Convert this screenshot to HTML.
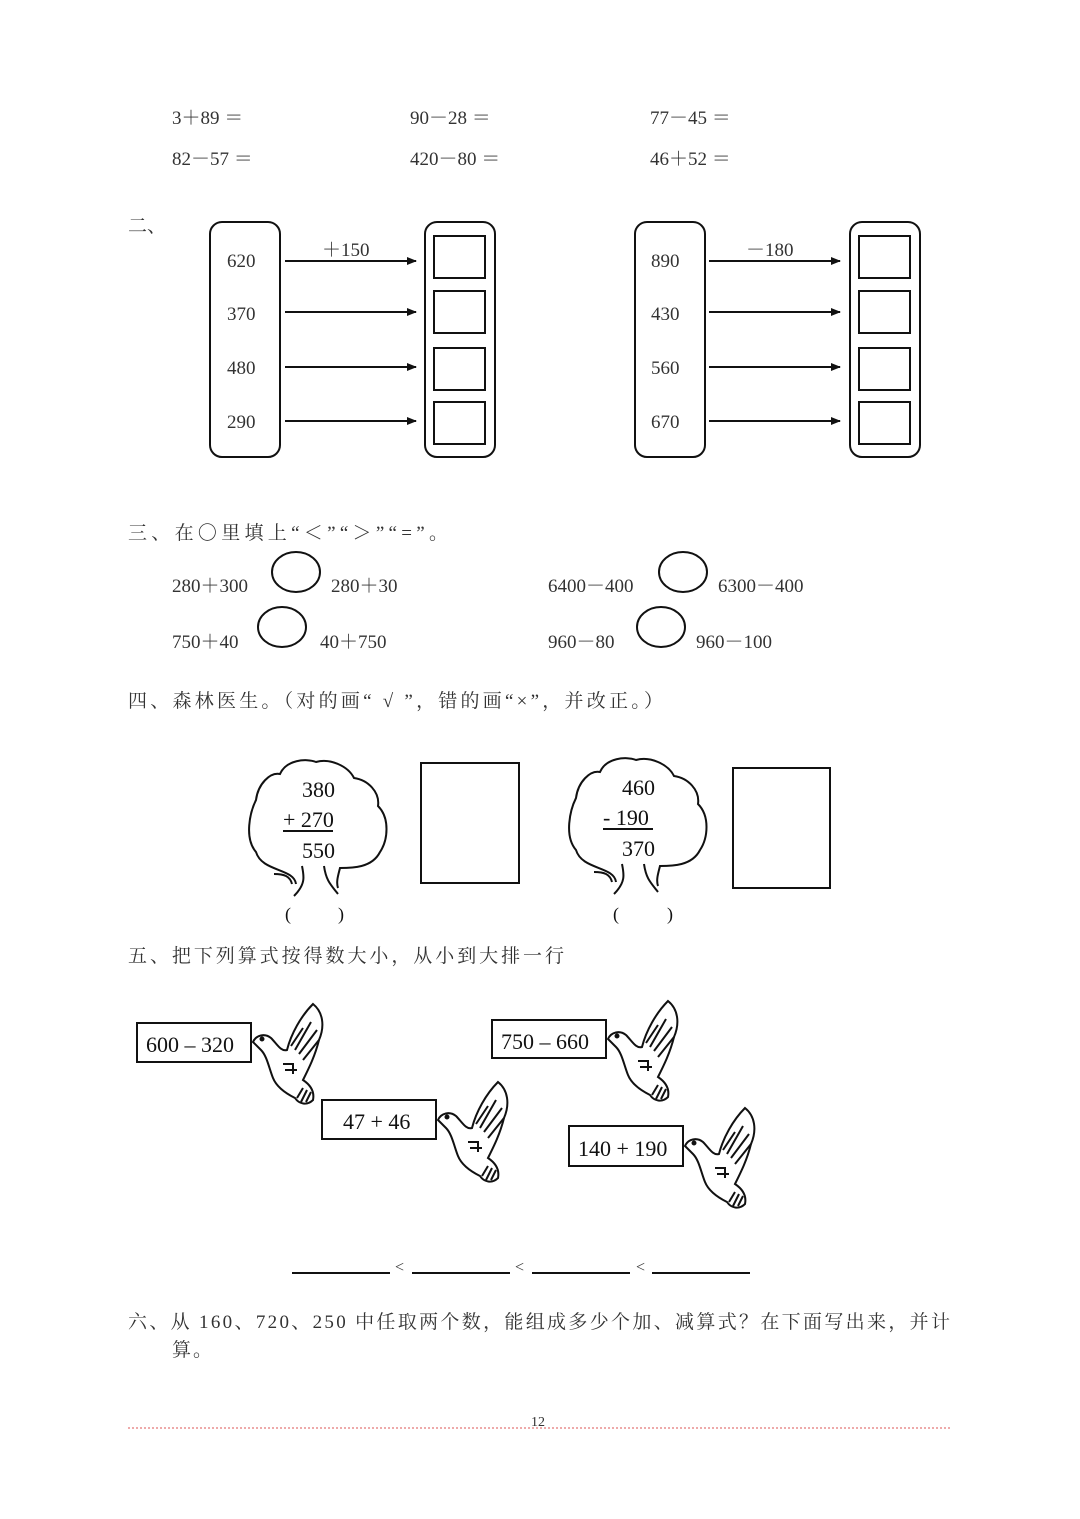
<!DOCTYPE html>
<html><head><meta charset="utf-8"><style>
html,body{margin:0;padding:0;background:#fff;}
svg{display:block}
.t{font-family:"Liberation Serif","Noto Serif CJK SC",serif;font-size:19px;fill:#333}
.b{font-family:"Liberation Serif",serif;font-size:22px;fill:#111}
</style></head><body>
<svg width="1080" height="1519" viewBox="0 0 1080 1519" xmlns="http://www.w3.org/2000/svg">
<defs>
<marker id="ar" markerWidth="10" markerHeight="8" refX="9" refY="4" orient="auto" markerUnits="userSpaceOnUse"><path d="M0,0 L10,4 L0,8 Z" fill="#111"/></marker>
<g id="bird" fill="#fff" stroke="#111" stroke-width="2">
<path d="M0,0 C3,-7 12,-9 18,-4 C24,2 28,10 34,8 C38,-8 48,-26 60,-38 C70,-30 72,-16 66,-2 C62,14 56,26 50,38 C56,42 62,48 60,58 C54,64 46,62 42,56 C34,52 24,46 20,36 C16,26 14,14 8,8 Z"/>
<path d="M38,4 L50,-14 M42,8 L58,-20 M46,12 L64,-12 M50,18 L66,-2 M44,56 L50,46 M48,60 L54,48 M53,60 L58,50 M30,22 L40,22 L40,32 M32,28 L44,28" fill="none"/>
<circle cx="9" cy="-3" r="1.5" fill="#111"/>
</g>
</defs>
<g class="t">
<text x="172" y="124">3＋89 ＝</text><text x="410" y="124">90－28 ＝</text><text x="650" y="124">77－45 ＝</text>
<text x="172" y="165">82－57 ＝</text><text x="410" y="165">420－80 ＝</text><text x="650" y="165">46＋52 ＝</text>
<text x="128" y="232">二、</text>
</g>
<g stroke="#111" stroke-width="2" fill="none">
<rect x="210" y="222" width="70" height="235" rx="12"/>
<rect x="425" y="222" width="70" height="235" rx="12"/>
<rect x="434" y="236" width="51" height="42"/><rect x="434" y="291" width="51" height="42"/>
<rect x="434" y="348" width="51" height="42"/><rect x="434" y="402" width="51" height="42"/>
<line x1="285" y1="261" x2="416" y2="261" marker-end="url(#ar)"/>
<line x1="285" y1="312" x2="416" y2="312" marker-end="url(#ar)"/>
<line x1="285" y1="367" x2="416" y2="367" marker-end="url(#ar)"/>
<line x1="285" y1="421" x2="416" y2="421" marker-end="url(#ar)"/>
<rect x="635" y="222" width="70" height="235" rx="12"/>
<rect x="850" y="222" width="70" height="235" rx="12"/>
<rect x="859" y="236" width="51" height="42"/><rect x="859" y="291" width="51" height="42"/>
<rect x="859" y="348" width="51" height="42"/><rect x="859" y="402" width="51" height="42"/>
<line x1="709" y1="261" x2="840" y2="261" marker-end="url(#ar)"/>
<line x1="709" y1="312" x2="840" y2="312" marker-end="url(#ar)"/>
<line x1="709" y1="367" x2="840" y2="367" marker-end="url(#ar)"/>
<line x1="709" y1="421" x2="840" y2="421" marker-end="url(#ar)"/>
</g>
<g class="t">
<text x="227" y="267">620</text><text x="227" y="320">370</text><text x="227" y="374">480</text><text x="227" y="428">290</text>
<text x="322" y="256">＋150</text>
<text x="651" y="267">890</text><text x="651" y="320">430</text><text x="651" y="374">560</text><text x="651" y="428">670</text>
<text x="746" y="256">－180</text>
<text x="128" y="539" textLength="320" lengthAdjust="spacing">三、在〇里填上“＜”“＞”“=”。</text>
<text x="172" y="592">280＋300</text><text x="331" y="592">280＋30</text>
<text x="548" y="592">6400－400</text><text x="718" y="592">6300－400</text>
<text x="172" y="648">750＋40</text><text x="320" y="648">40＋750</text>
<text x="548" y="648">960－80</text><text x="696" y="648">960－100</text>
<text x="128" y="707" textLength="535" lengthAdjust="spacing">四、森林医生。（对的画“ √ ”，错的画“×”，并改正。）</text>
<text x="128" y="962" textLength="436" lengthAdjust="spacing">五、把下列算式按得数大小，从小到大排一行</text>
<text x="128" y="1328" textLength="822" lengthAdjust="spacing">六、从 160、720、250 中任取两个数，能组成多少个加、减算式？在下面写出来，并计</text>
<text x="172" y="1356" textLength="40" lengthAdjust="spacing">算。</text>
<text x="531" y="1426" style="font-size:14px">12</text>
<text x="395" y="1272" style="font-size:16px">&lt;</text><text x="515" y="1272" style="font-size:16px">&lt;</text><text x="636" y="1272" style="font-size:16px">&lt;</text>
</g>
<g stroke="#111" stroke-width="2" fill="none">
<ellipse cx="296" cy="572" rx="24" ry="20"/><ellipse cx="282" cy="627" rx="24" ry="20"/>
<ellipse cx="683" cy="572" rx="24" ry="20"/><ellipse cx="661" cy="627" rx="24" ry="20"/>
<path d="M296,884 C294,868 262,872 256,852 C244,838 250,812 256,800 C258,784 270,772 280,774 C286,760 306,758 316,762 C330,758 348,766 354,778 C368,780 380,792 378,806 C390,818 388,840 380,852 C372,868 352,868 340,868 C338,876 336,882 338,888 M292,884 C290,876 284,874 274,874 M302,866 C304,876 306,884 294,896 M324,866 C326,880 330,884 338,894" />
<line x1="283" y1="831" x2="333" y2="831"/>
<rect x="421" y="763" width="98" height="120"/>
<path d="M616,882 C614,866 582,870 576,850 C564,836 570,810 576,798 C578,782 590,770 600,772 C606,758 626,756 636,760 C650,756 668,764 674,776 C688,778 700,790 698,804 C710,816 708,838 700,850 C692,866 672,866 660,866 C658,874 656,880 658,886 M612,882 C610,874 604,872 594,872 M622,864 C624,874 626,882 614,894 M644,864 C646,878 650,882 658,892"/>
<line x1="603" y1="829" x2="653" y2="829"/>
<rect x="733" y="768" width="97" height="120"/>
<rect x="137" y="1023" width="114" height="39"/>
<rect x="322" y="1100" width="114" height="39"/>
<rect x="492" y="1020" width="114" height="38"/>
<rect x="569" y="1126" width="114" height="40"/>
<line x1="292" y1="1273" x2="390" y2="1273"/><line x1="412" y1="1273" x2="510" y2="1273"/>
<line x1="532" y1="1273" x2="630" y2="1273"/><line x1="652" y1="1273" x2="750" y2="1273"/>
</g>
<line x1="128" y1="1428" x2="950" y2="1428" stroke="#d55" stroke-width="1" stroke-dasharray="2,2"/>
<use href="#bird" x="253" y="1042"/><use href="#bird" x="438" y="1120"/>
<use href="#bird" x="608" y="1039"/><use href="#bird" x="685" y="1146"/>
<g class="b">
<text x="302" y="797">380</text><text x="283" y="827">+ 270</text><text x="302" y="858">550</text>
<text x="622" y="795">460</text><text x="603" y="825">- 190</text><text x="622" y="856">370</text>
<text x="285" y="920" style="font-size:18px">(</text><text x="338" y="920" style="font-size:18px">)</text>
<text x="613" y="920" style="font-size:18px">(</text><text x="667" y="920" style="font-size:18px">)</text>
<text x="146" y="1052">600 – 320</text><text x="343" y="1129">47 + 46</text>
<text x="501" y="1049">750 – 660</text><text x="578" y="1156">140 + 190</text>
</g>
</svg>
</body></html>
